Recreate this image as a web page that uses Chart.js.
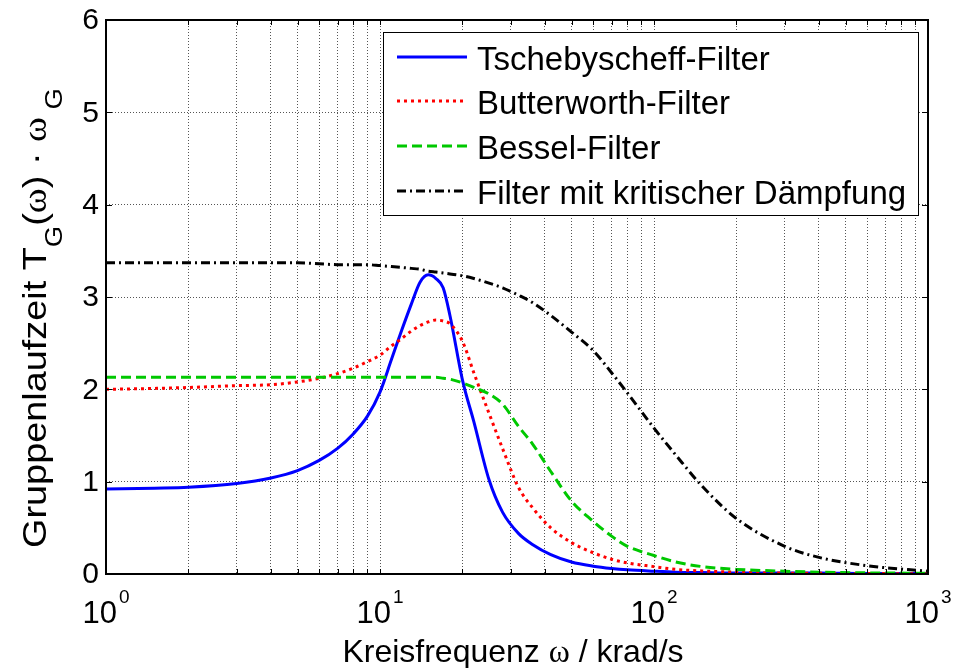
<!DOCTYPE html>
<html>
<head>
<meta charset="utf-8">
<script src="https://cdn.jsdelivr.net/npm/chart.js@4.4.0/dist/chart.umd.min.js"></script>
<style>
  html, body { margin: 0; padding: 0; background: #fff; }
  #wrap { width: 971px; height: 668px; }
</style>
</head>
<body>
<div id="wrap"><canvas id="chart" width="971" height="668"></canvas></div>
<script>
// Kreisfrequenz in krad/s
const omega    = [1, 1.5, 2, 3, 4, 5, 6, 7, 8, 9, 10, 11, 12, 13, 14, 15, 16, 17, 18, 20, 22, 25, 28, 32, 36, 42, 50, 60, 70, 80, 100, 120, 150, 200, 300, 400, 600, 1000];
// Gruppenlaufzeit (normiert) je Filter
const tscheby  = [0.92, 0.93, 0.94, 0.98, 1.04, 1.12, 1.23, 1.36, 1.52, 1.71, 1.97, 2.32, 2.64, 2.92, 3.16, 3.24, 3.20, 3.10, 2.80, 2.10, 1.65, 1.02, 0.67, 0.44, 0.32, 0.21, 0.13, 0.085, 0.06, 0.045, 0.03, 0.02, 0.015, 0.01, 0.01, 0.01, 0.005, 0.005];
const butter   = [2.00, 2.01, 2.02, 2.04, 2.05, 2.08, 2.12, 2.17, 2.23, 2.30, 2.37, 2.47, 2.55, 2.63, 2.69, 2.73, 2.75, 2.74, 2.71, 2.52, 2.18, 1.74, 1.36, 0.94, 0.72, 0.50, 0.34, 0.23, 0.16, 0.12, 0.08, 0.05, 0.033, 0.02, 0.01, 0.008, 0.005, 0.003];
const bessel   = [2.13, 2.13, 2.13, 2.13, 2.13, 2.13, 2.13, 2.13, 2.13, 2.13, 2.13, 2.13, 2.13, 2.13, 2.13, 2.13, 2.13, 2.12, 2.11, 2.07, 2.02, 1.95, 1.84, 1.60, 1.41, 1.11, 0.79, 0.57, 0.41, 0.30, 0.20, 0.13, 0.08, 0.05, 0.03, 0.02, 0.012, 0.008];
const kritisch = [3.37, 3.37, 3.37, 3.37, 3.37, 3.37, 3.36, 3.35, 3.35, 3.35, 3.34, 3.33, 3.32, 3.31, 3.30, 3.28, 3.27, 3.26, 3.25, 3.23, 3.20, 3.15, 3.10, 3.02, 2.94, 2.80, 2.62, 2.42, 2.18, 1.96, 1.58, 1.29, 0.95, 0.60, 0.30, 0.18, 0.09, 0.03];

const seriesNames = ['Tschebyscheff-Filter', 'Butterworth-Filter', 'Bessel-Filter', 'Filter mit kritischer Dämpfung'];
const xDecades  = [1, 10, 100, 1000];
const xExponent = ['0', '1', '2', '3'];
const yTicks    = [0, 1, 2, 3, 4, 5, 6];

function pts(vals) {
    return omega.map((w, i) => ({x: w, y: vals[i]}));
}

// Schriften
const SANS = '"Liberation Sans", Arial, sans-serif';
const SERIF = '"Liberation Serif", "Times New Roman", serif';

// Texte nacheinander zeichnen (für Hoch-/Tiefstellung)
function runsWidth(ctx, runs) {
    let w = 0;
    runs.forEach(r => { ctx.font = r.font; w += ctx.measureText(r.text).width; });
    return w;
}
function drawRuns(ctx, runs, x, y) {
    runs.forEach(r => {
        ctx.font = r.font;
        ctx.fillText(r.text, x, y + (r.dy || 0));
        x += ctx.measureText(r.text).width;
    });
}

const boxPlugin = {
    id: 'matlabBox',
    afterDraw(chart) {
        const ctx = chart.ctx;
        const a = chart.chartArea;
        const xs = chart.scales.x, ys = chart.scales.y;
        ctx.save();
        ctx.fillStyle = '#000';
        ctx.strokeStyle = '#000';

        // Achsenrahmen
        ctx.lineWidth = 2;
        ctx.strokeRect(a.left, a.top, a.right - a.left, a.bottom - a.top);

        // Ticks nach innen
        ctx.lineWidth = 1;
        ctx.beginPath();
        xs.ticks.forEach(t => {
            const px = Math.round(xs.getPixelForValue(t.value)) + 0.5;
            ctx.moveTo(px, a.bottom); ctx.lineTo(px, a.bottom - 5);
            ctx.moveTo(px, a.top); ctx.lineTo(px, a.top + 5);
        });
        yTicks.forEach(v => {
            const py = Math.round(ys.getPixelForValue(v)) + 0.5;
            ctx.moveTo(a.left, py); ctx.lineTo(a.left + 6, py);
            ctx.moveTo(a.right, py); ctx.lineTo(a.right - 6, py);
        });
        ctx.stroke();

        // y-Beschriftung
        ctx.font = '30px ' + SANS;
        ctx.textAlign = 'right';
        ctx.textBaseline = 'middle';
        yTicks.forEach(v => ctx.fillText(String(v), a.left - 7, ys.getPixelForValue(v) + 1));

        // x-Beschriftung 10^n
        ctx.textAlign = 'left';
        ctx.textBaseline = 'alphabetic';
        xDecades.forEach((d, i) => {
            const runs = [
                {text: '10', font: '31px ' + SANS},
                {text: xExponent[i], font: '19px ' + SANS}
            ];
            const w = runsWidth(ctx, runs) + 2;
            const cx = xs.getPixelForValue(d);
            ctx.font = runs[0].font;
            const w0 = ctx.measureText('10').width;
            ctx.fillText('10', cx - w / 2, 623);
            ctx.font = runs[1].font;
            ctx.fillText(xExponent[i], cx - w / 2 + w0 + 2, 603);
        });

        // x-Achsentitel
        const xt = [
            {text: 'Kreisfrequenz ', font: '32px ' + SANS},
            {text: 'ω', font: '32px ' + SERIF},
            {text: ' / krad/s', font: '32px ' + SANS}
        ];
        const xw = runsWidth(ctx, xt);
        drawRuns(ctx, xt, 513 - xw / 2, 662);

        // y-Achsentitel (gedreht)
        const yt = [
            {text: 'Gruppenlaufzeit T', font: '33px ' + SANS},
            {text: 'G', font: '24px ' + SANS, dy: 16},
            {text: '(', font: '33px ' + SANS},
            {text: 'ω', font: '33px ' + SERIF},
            {text: ') · ', font: '33px ' + SANS},
            {text: 'ω', font: '33px ' + SERIF},
            {text: ' G', font: '24px ' + SANS, dy: 16}
        ];
        const yw = runsWidth(ctx, yt);
        ctx.save();
        ctx.translate(46, 548);
        ctx.rotate(-Math.PI / 2);
        ctx.scale(460 / yw, 1);
        drawRuns(ctx, yt, 0, 0);
        ctx.restore();

        // Legende
        const lx = 383, ly = 32, lw = 535, lh = 183;
        ctx.fillStyle = '#fff';
        ctx.fillRect(lx, ly, lw, lh);
        ctx.lineWidth = 1;
        ctx.strokeStyle = '#000';
        ctx.strokeRect(lx + 0.5, ly + 0.5, lw, lh);
        const rows = [57, 101, 146, 191];
        chart.data.datasets.forEach((ds, i) => {
            const ry = rows[i];
            ctx.save();
            ctx.strokeStyle = ds.borderColor;
            ctx.lineWidth = ds.borderWidth;
            ctx.setLineDash(ds.borderDash || []);
            ctx.beginPath();
            ctx.moveTo(397, ry); ctx.lineTo(467, ry);
            ctx.stroke();
            ctx.restore();
            ctx.fillStyle = '#000';
            ctx.font = '33px ' + SANS;
            ctx.textAlign = 'left';
            ctx.textBaseline = 'alphabetic';
            ctx.fillText(ds.label, 477, ry + 13);
        });
        ctx.restore();
    }
};

const gridOpts = {color: '#555', lineWidth: 1, drawTicks: false};
const borderOpts = {display: false, dash: [1, 2]};

new Chart(document.getElementById('chart'), {
    type: 'line',
    data: {
        datasets: [
            {label: seriesNames[0], data: pts(tscheby),  borderColor: '#0000ff', borderWidth: 3, borderDash: [], order: 4},
            {label: seriesNames[1], data: pts(butter),   borderColor: '#ff0000', borderWidth: 3, borderDash: [3, 4], order: 3},
            {label: seriesNames[2], data: pts(bessel),   borderColor: '#00c800', borderWidth: 3, borderDash: [10, 5], order: 2},
            {label: seriesNames[3], data: pts(kritisch), borderColor: '#000000', borderWidth: 3, borderDash: [9, 4, 2, 4], order: 1}
        ]
    },
    options: {
        responsive: false,
        animation: false,
        layout: {padding: {left: 106, right: 43, top: 20, bottom: 94}},
        elements: {
            point: {radius: 0, hoverRadius: 0},
            line: {cubicInterpolationMode: 'monotone', fill: false}
        },
        plugins: {legend: {display: false}, tooltip: {enabled: false}},
        scales: {
            x: {
                type: 'logarithmic', min: 1, max: 1000,
                afterBuildTicks: s => {
                    // nur 1..9 je Dekade
                    s.ticks = s.ticks.filter(t => {
                        const m = t.value / Math.pow(10, Math.floor(Math.log10(t.value) + 1e-9));
                        return Math.abs(m - Math.round(m)) < 1e-6;
                    });
                },
                ticks: {display: false},
                grid: gridOpts,
                border: borderOpts
            },
            y: {
                type: 'linear', min: 0, max: 6,
                afterBuildTicks: s => { s.ticks = yTicks.map(v => ({value: v})); },
                ticks: {display: false},
                grid: gridOpts,
                border: borderOpts
            }
        }
    },
    plugins: [boxPlugin]
});
</script>
</body>
</html>
